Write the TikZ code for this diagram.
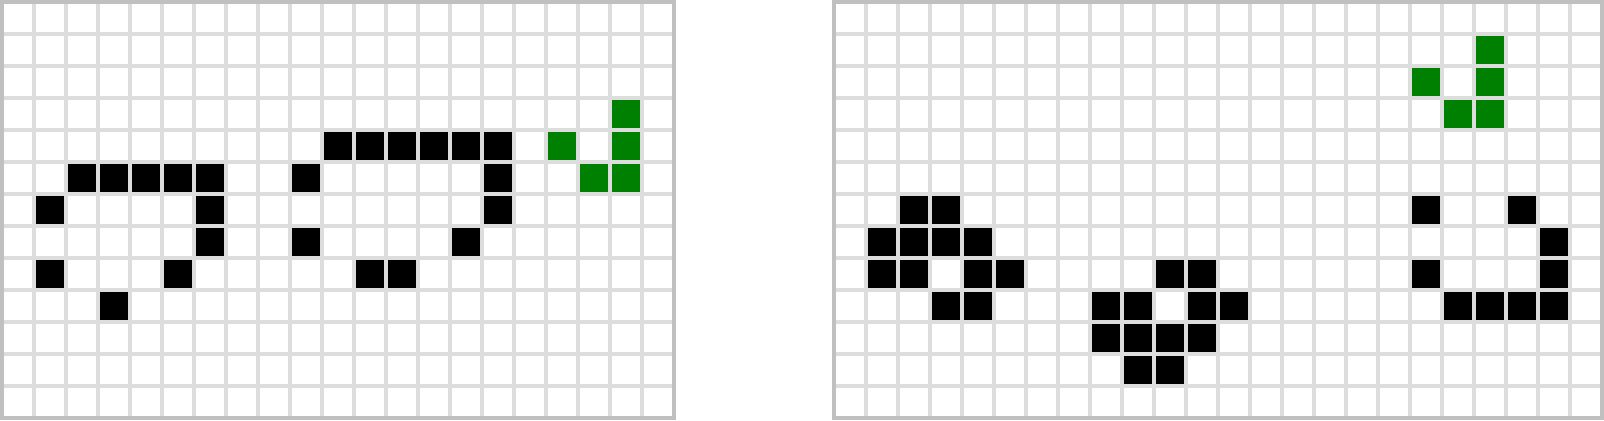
\documentclass[tikz,border=0pt]{standalone}
\usepackage{tikz}
\usepackage{xcolor}
\definecolor{linhacinza}{HTML}{DDDDDD}
\definecolor{bordacinza}{HTML}{C0C0C0}
\definecolor{vivaverde}{HTML}{008000}

\begin{document}
\begin{tikzpicture}[x=16pt, y=-16pt]
  \useasboundingbox (-0.0625,-0.0625) rectangle (50.0625,13.0625);

  % Geracao 1
  \foreach \c/\r in {10/4,11/4,12/4,13/4,14/4,15/4,
                     2/5,3/5,4/5,5/5,6/5,9/5,15/5,
                     1/6,6/6,15/6,6/7,9/7,14/7,
                     1/8,5/8,11/8,12/8,3/9} {
    \fill[black] (\c,\r) rectangle ++(1,1);
  }
  \foreach \c/\r in {19/3,17/4,19/4,18/5,19/5} {
    \fill[vivaverde] (\c,\r) rectangle ++(1,1);
  }
  \foreach \c in {0,...,21} {
    \draw[linhacinza, line width=2pt] (\c,0) -- (\c,13);
  }
  \foreach \r in {0,...,13} {
    \draw[linhacinza, line width=2pt] (0,\r) -- (21,\r);
  }
  \draw[bordacinza, line width=2pt] (0,0) rectangle (21,13);

  % Geracao 2
  \begin{scope}[xshift=416pt]
    \foreach \c/\r in {2/6,3/6,18/6,21/6,
                       1/7,2/7,3/7,4/7,22/7,
                       1/8,2/8,4/8,5/8,10/8,11/8,18/8,22/8,
                       3/9,4/9,8/9,9/9,11/9,12/9,19/9,20/9,21/9,22/9,
                       8/10,9/10,10/10,11/10,9/11,10/11} {
      \fill[black] (\c,\r) rectangle ++(1,1);
    }
    \foreach \c/\r in {20/1,18/2,20/2,19/3,20/3} {
      \fill[vivaverde] (\c,\r) rectangle ++(1,1);
    }
    \foreach \c in {0,...,24} {
      \draw[linhacinza, line width=2pt] (\c,0) -- (\c,13);
    }
    \foreach \r in {0,...,13} {
      \draw[linhacinza, line width=2pt] (0,\r) -- (24,\r);
    }
    \draw[bordacinza, line width=2pt] (0,0) rectangle (24,13);
  \end{scope}
\end{tikzpicture}
\end{document}
